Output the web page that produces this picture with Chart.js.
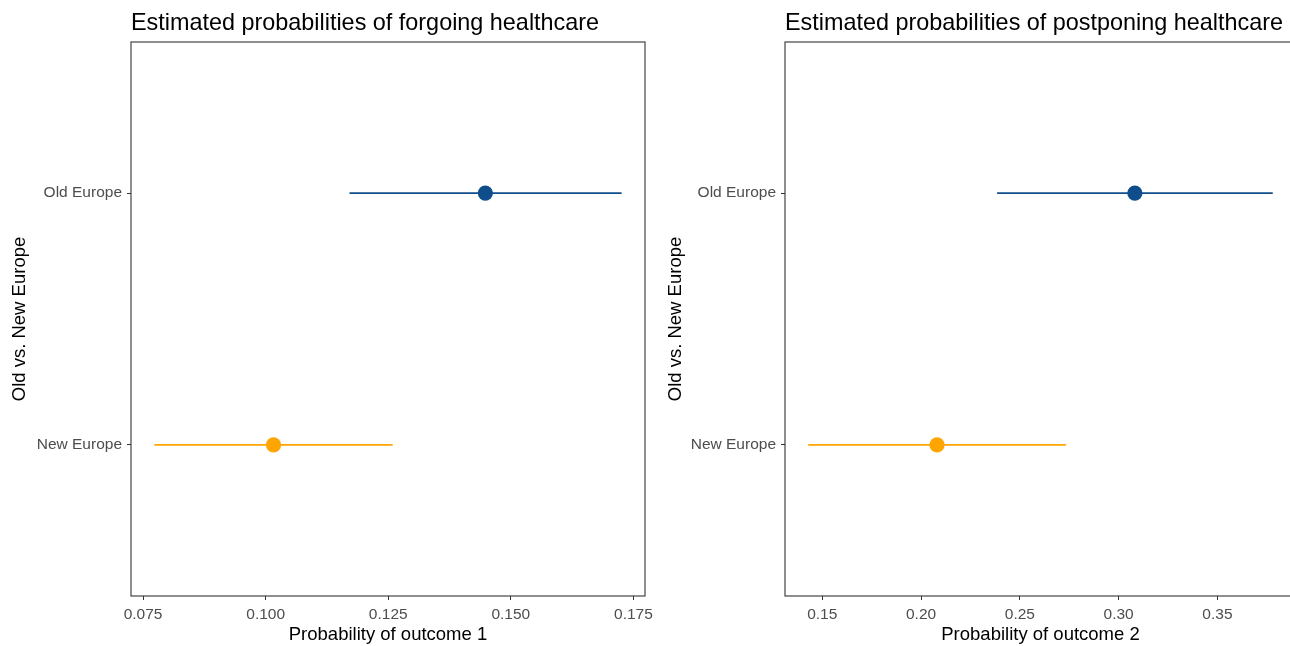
<!DOCTYPE html>
<html>
<head>
<meta charset="utf-8">
<script src="https://cdn.jsdelivr.net/npm/chart.js@4/dist/chart.umd.min.js"></script>
<style>
  html, body { margin: 0; padding: 0; background: #ffffff; overflow: hidden; width: 1290px; height: 646px; }
  .panel { position: absolute; top: 0; height: 646px; }
  #p1 { left: 0; width: 670px; }
  #p2 { left: 650px; width: 650px; }
</style>
</head>
<body>
<div class="panel" id="p1"><canvas id="c1" width="670" height="646"></canvas></div>
<div class="panel" id="p2"><canvas id="c2" width="650" height="646"></canvas></div>
<script>
// Groups on the vertical axis (bottom to top)
const groups = ['New Europe', 'Old Europe'];
const groupColors = ['#FFA500', '#104E8B'];

// Outcome 1: forgoing healthcare (estimate and interval bounds per group)
const forgoEst  = [0.1016, 0.1448];
const forgoLow  = [0.0773, 0.1171];
const forgoHigh = [0.1259, 0.1726];
const forgoTicks = [0.075, 0.100, 0.125, 0.150, 0.175];

// Outcome 2: postponing healthcare
const postponeEst  = [0.2081, 0.3082];
const postponeLow  = [0.1429, 0.2385];
const postponeHigh = [0.2733, 0.3780];
const postponeTicks = [0.15, 0.20, 0.25, 0.30, 0.35];

const FONT = "'Liberation Sans', Arial, sans-serif";

// Panel frame and left-aligned title
const framePlugin = {
  id: 'frame',
  afterDraw(chart, args, opts) {
    const { ctx, chartArea: a } = chart;
    ctx.save();
    ctx.strokeStyle = '#333333';
    ctx.lineWidth = 1.1;
    ctx.strokeRect(a.left, a.top, a.right - a.left, a.bottom - a.top);
    ctx.fillStyle = '#000000';
    ctx.font = opts.size + 'px ' + FONT;
    ctx.textAlign = 'left';
    ctx.textBaseline = 'alphabetic';
    ctx.fillText(opts.text, a.left, opts.baseline);
    ctx.restore();
  }
};

function makePanel(canvasId, cfg) {
  const datasets = [];
  groups.forEach((g, i) => {
    datasets.push({
      type: 'line',
      data: [{ x: cfg.low[i], y: i + 1 }, { x: cfg.high[i], y: i + 1 }],
      borderColor: groupColors[i],
      borderWidth: 1.6,
      pointRadius: 0,
      fill: false
    });
  });
  datasets.push({
    type: 'scatter',
    data: groups.map((g, i) => ({ x: cfg.est[i], y: i + 1 })),
    backgroundColor: groupColors,
    borderWidth: 0,
    pointRadius: 7.6,
    pointHoverRadius: 7.6
  });

  const lo = Math.min(...cfg.low), hi = Math.max(...cfg.high);
  const pad = (hi - lo) * 0.05;

  return new Chart(document.getElementById(canvasId), {
    data: { datasets },
    plugins: [framePlugin],
    options: {
      responsive: false,
      animation: false,
      events: [],
      layout: { autoPadding: false, padding: { left: 0, right: cfg.padRight, top: 42, bottom: 0 } },
      plugins: {
        legend: { display: false },
        tooltip: { enabled: false },
        frame: { text: cfg.title, size: 23.4, baseline: 30 }
      },
      scales: {
        x: {
          type: 'linear',
          min: lo - pad,
          max: hi + pad,
          afterBuildTicks: s => { s.ticks = cfg.ticks.map(v => ({ value: v })); },
          afterFit: s => { s.height = 50; s.paddingLeft = 0; s.paddingRight = 0; },
          ticks: {
            color: '#4D4D4D',
            font: { family: FONT, size: 15.5 },
            padding: 5,
            callback: v => v.toFixed(cfg.digits)
          },
          grid: { display: true, drawOnChartArea: false, drawTicks: true, tickLength: 4, color: '#333333' },
          border: { display: false },
          title: {
            display: true,
            text: cfg.xTitle,
            color: '#000000',
            font: { family: FONT, size: 18.5 },
            padding: { top: 0, bottom: 0 }
          }
        },
        y: {
          type: 'linear',
          min: 0.4,
          max: 2.6,
          afterBuildTicks: s => { s.ticks = groups.map((g, i) => ({ value: i + 1 })); },
          afterFit: s => { s.width = cfg.yWidth; s.paddingTop = 0; s.paddingBottom = 0; },
          ticks: {
            color: '#4D4D4D',
            font: { family: FONT, size: 15.5 },
            padding: 5,
            callback: v => groups[v - 1]
          },
          grid: { display: true, drawOnChartArea: false, drawTicks: true, tickLength: 4, color: '#333333' },
          border: { display: false },
          title: {
            display: true,
            text: 'Old vs. New Europe',
            color: '#000000',
            font: { family: FONT, size: 18.5 },
            padding: { top: cfg.yTitlePad, bottom: 0 }
          }
        }
      }
    }
  });
}

makePanel('c1', {
  title: 'Estimated probabilities of forgoing healthcare',
  xTitle: 'Probability of outcome 1',
  est: forgoEst, low: forgoLow, high: forgoHigh,
  ticks: forgoTicks, digits: 3,
  yWidth: 131, padRight: 25, yTitlePad: 9
});

makePanel('c2', {
  title: 'Estimated probabilities of postponing healthcare',
  xTitle: 'Probability of outcome 2',
  est: postponeEst, low: postponeLow, high: postponeHigh,
  ticks: postponeTicks, digits: 2,
  yWidth: 135, padRight: 4, yTitlePad: 15
});
</script>
</body>
</html>
